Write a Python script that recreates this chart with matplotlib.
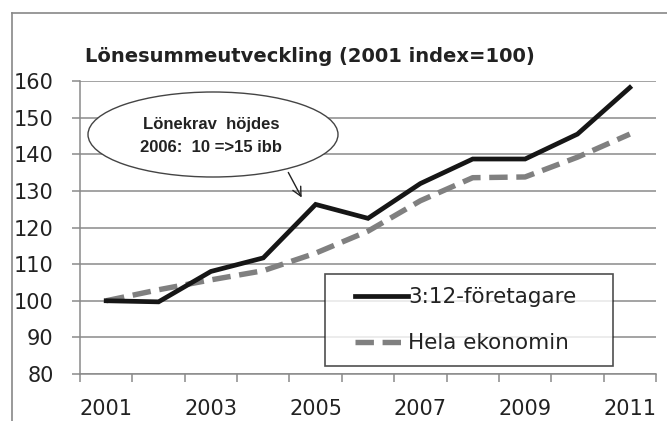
import matplotlib
matplotlib.use("Agg")
import matplotlib.pyplot as plt
import numpy as np
from matplotlib.patches import Ellipse
from matplotlib.lines import Line2D
from matplotlib.legend_handler import HandlerLine2D

years = ["2001", "2002", "2003", "2004", "2005", "2006", "2007", "2008", "2009", "2010", "2011"]
foretagare = [100, 99.7, 108, 111.7, 126.3, 122.5, 132, 138.7, 138.7, 145.5, 158.2]
hela = [100, 103, 105.7, 108.2, 113, 119, 127.3, 133.6, 133.8, 139.2, 145.5]
series_labels = ["3:12-företagare", "Hela ekonomin"]
title = "Lönesummeutveckling (2001 index=100)"
note_lines = ["Lönekrav  höjdes", "2006:  10 =>15 ibb"]
yticks = [80, 90, 100, 110, 120, 130, 140, 150, 160]

W, H = 667, 421
fig = plt.figure(figsize=(W / 100, H / 100), dpi=100)
fig.patch.set_facecolor("white")

def fx(px):
    return px / W

def fy(py):
    return 1 - py / H

ax = fig.add_axes([fx(80), fy(374), fx(656) - fx(80), fy(81) - fy(374)])
ax.set_facecolor("white")

x = list(range(len(years)))
grid_c = "#8a8a8a"
text_c = "#222222"
dash = (0, (3.4, 1.6))

for v in yticks:
    ax.axhline(v, color=grid_c, lw=1.1, zorder=1)

ax.plot(x, hela, color="#808080", lw=3.9, ls=dash, dash_capstyle="butt", zorder=3)
ax.plot(x, foretagare, color="#161616", lw=3.4, solid_joinstyle="miter", zorder=4)

ax.set_xlim(-0.5, len(years) - 0.5)
ax.set_ylim(80, 160)
ax.set_yticks(yticks)
ax.set_yticklabels([str(v) for v in yticks], fontsize=15, color=text_c, family="DejaVu Sans")
ax.tick_params(axis="y", length=6, width=1.1, color=grid_c, pad=13)

ax.set_xticks(x[::2])
ax.set_xticklabels(years[::2], fontsize=15, color=text_c, family="DejaVu Sans")
ax.set_xticks([i - 0.5 for i in range(len(years) + 1)], minor=True)
ax.tick_params(axis="x", which="major", length=0, pad=18)
ax.tick_params(axis="x", which="minor", length=6, width=1.1, color=grid_c)

for s in ["top", "right"]:
    ax.spines[s].set_visible(False)
for s in ["left", "bottom"]:
    ax.spines[s].set_color(grid_c)
    ax.spines[s].set_linewidth(1.1)

# outer border
fig.add_artist(Line2D([fx(12), fx(12)], [fy(13), 0], transform=fig.transFigure, color="#888888", lw=1.2))
fig.add_artist(Line2D([fx(12), 1], [fy(13), fy(13)], transform=fig.transFigure, color="#888888", lw=1.2))

# title
fig.text(fx(85), fy(57), title, fontsize=14, fontweight="bold", color=text_c,
         family="DejaVu Sans", ha="left", va="center")

# callout
ell = Ellipse((fx(213), fy(134.5)), fx(250), 85 / H, transform=fig.transFigure,
              facecolor="white", edgecolor="#444444", lw=1.0, zorder=10)
fig.add_artist(ell)
for txt, py in zip(note_lines, [124, 147]):
    fig.text(fx(211), fy(py), txt, fontsize=12, fontweight="bold", color=text_c,
             family=["Liberation Sans Narrow", "Liberation Sans"], ha="center", va="center", zorder=11)
ax.annotate("", xy=(303, H - 200), xycoords="figure pixels",
            xytext=(287, H - 170), textcoords="figure pixels",
            arrowprops=dict(arrowstyle="->", color=text_c, lw=1.0, mutation_scale=16),
            zorder=11)


class OffsetLine(HandlerLine2D):
    def get_xdata(self, legend, xdescent, ydescent, width, height, fontsize):
        x0 = -xdescent + width * 0.25
        x1 = -xdescent + width
        xdata = np.array([x0, x1])
        return xdata, xdata


handles = [Line2D([], [], color="#161616", lw=3.4),
           Line2D([], [], color="#808080", lw=3.9, ls=dash, dash_capstyle="butt")]
leg = ax.legend(handles, series_labels, loc="lower left", mode="expand",
                bbox_to_anchor=(fx(325), fy(366), fx(613) - fx(325), fy(272) - fy(366)),
                bbox_transform=fig.transFigure, borderaxespad=0, fancybox=False,
                frameon=True, handlelength=3.25, handletextpad=0.0,
                labelspacing=1.2, borderpad=0.6, prop={"family": "DejaVu Sans", "size": 15.5},
                handler_map={Line2D: OffsetLine()})
leg.get_frame().set_edgecolor(text_c)
leg.get_frame().set_linewidth(1.2)
for t in leg.get_texts():
    t.set_color(text_c)
leg.set_zorder(12)

fig.savefig("out.png", dpi=100, facecolor="white")
